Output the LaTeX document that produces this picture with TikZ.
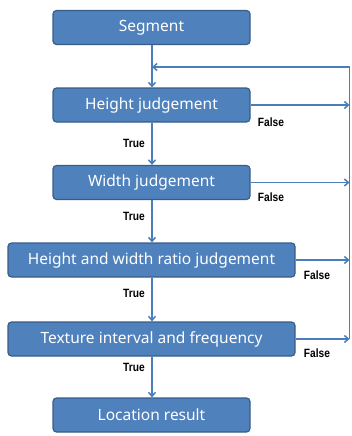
\documentclass[tikz,border=0pt]{standalone}
\usepackage{fontspec}
\setmainfont{Noto Sans}
\newfontfamily\lblfont{Liberation Sans}
\usetikzlibrary{arrows.meta}
\definecolor{boxfill}{HTML}{4F81BD}
\definecolor{boxedge}{HTML}{385D8A}
\definecolor{linecol}{HTML}{4A7EBB}
\tikzset{
  x=1pt,y=-1pt,
  procbox/.style={draw=boxedge,fill=boxfill,line width=1.2pt,rounded corners=3.5pt,
    text=white,font=\fontsize{15.5}{17}\selectfont,inner sep=0pt,minimum height=34pt},
  narrowbox/.style={procbox,minimum width=197pt},
  widebox/.style={procbox,minimum width=287pt},
  conn/.style={draw=linecol,line width=1.5pt},
  arr/.style={conn,-{Straight Barb[length=4pt,width=7pt]}},
  lbl/.style={font=\lblfont\bfseries\fontsize{12}{13}\selectfont,inner sep=0pt,xscale=0.85}
}
\begin{document}
\begin{tikzpicture}
\useasboundingbox (0,0) rectangle (351,436);
\node[narrowbox] (seg) at (151.5,27.5) {Segment};
\node[narrowbox] (hj) at (151.5,105) {Height judgement};
\node[narrowbox] (wj) at (151.5,182.5) {Width judgement};
\node[widebox] (hw) at (151.5,260) {Height and width ratio judgement};
\node[widebox] (tx) at (151.5,339) {Texture interval and frequency};
\node[narrowbox] (loc) at (151.5,415) {Location result};

\coordinate (top) at (152,67);
\coordinate (rtop) at (349.5,67);
\coordinate (rbot) at (349.5,339);

% main flow
\draw[arr] (seg.south -| top) -- (hj.north -| top);
\draw[arr] (hj.south -| top) -- (wj.north -| top);
\draw[arr] (wj.south -| top) -- (hw.north -| top);
\draw[arr] (hw.south -| top) -- (tx.north -| top);
\draw[arr] (tx.south -| top) -- (loc.north -| top);

% false branches
\draw[arr] (hj.east) -- (hj.east -| rtop);
\draw[arr] (wj.east) -- (wj.east -| rtop);
\draw[arr] (hw.east) -- (hw.east -| rtop);
\draw[arr] (tx.east) -- (tx.east -| rtop);
\draw[conn] (rbot) -- (rtop);
\draw[arr] (rtop) -- (top);

% labels
\node[lbl] (t1) at (134,143) {True};
\node[lbl] (t2) at (134,216) {True};
\node[lbl] (t3) at (134,293) {True};
\node[lbl] (t4) at (134,367) {True};
\node[lbl] (f1) at (271,122) {False};
\node[lbl] (f2) at (271,197) {False};
\node[lbl] (f3) at (317,275) {False};
\node[lbl] (f4) at (317,353) {False};
\end{tikzpicture}
\end{document}
